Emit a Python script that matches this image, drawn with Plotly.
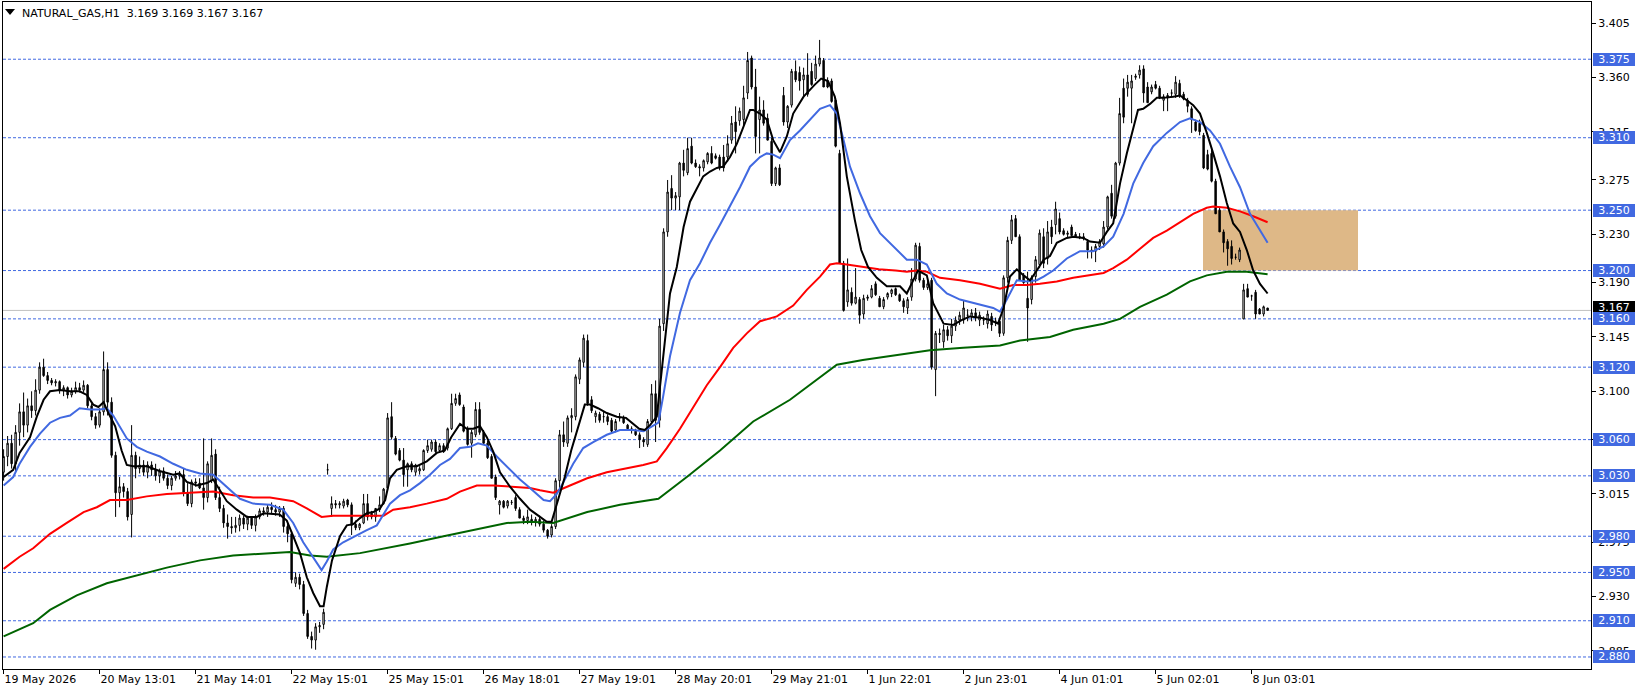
import plotly.graph_objects as go

# ---------------- data ----------------
opens = [
3.033,3.046,3.057,3.040,3.066,3.083,3.072,3.088,3.084,3.101,
3.120,3.113,3.109,3.107,3.108,3.101,3.103,3.097,3.100,3.103,
3.101,3.105,3.088,3.079,3.072,3.083,3.118,3.091,3.047,3.016,
3.021,3.017,2.998,3.047,3.036,3.039,3.033,3.039,3.035,3.030,
3.034,3.028,3.022,3.028,3.030,3.031,3.016,3.007,3.025,3.024,
3.020,3.012,3.026,3.048,3.012,3.003,2.991,2.988,2.987,2.989,
2.995,2.990,2.995,2.989,2.996,3.001,3.000,3.004,3.002,3.000,
3.003,2.988,2.982,2.941,2.946,2.940,2.916,2.897,2.894,2.905,
2.907,3.035,3.003,3.007,3.006,3.005,3.010,3.006,2.990,2.987,
2.991,3.007,2.999,2.996,3.002,3.007,3.020,3.079,3.061,3.051,
3.043,3.035,3.040,3.033,3.034,3.035,3.051,3.052,3.058,3.051,
3.055,3.053,3.069,3.090,3.097,3.087,3.069,3.057,3.064,3.085,
3.066,3.057,3.046,3.029,3.006,3.009,3.005,3.008,3.012,3.002,
2.995,2.993,2.994,2.992,2.994,2.990,2.985,2.981,2.988,3.026,
3.064,3.057,3.078,3.079,3.110,3.124,3.142,3.093,3.079,3.081,
3.079,3.079,3.076,3.068,3.078,3.078,3.072,3.069,3.067,3.064,
3.060,3.056,3.075,3.098,3.076,3.156,3.232,3.268,3.260,3.261,
3.289,3.281,3.303,3.289,3.286,3.285,3.290,3.297,3.295,3.294,
3.294,3.294,3.308,3.323,3.324,3.325,3.347,3.376,3.352,3.325,
3.333,3.326,3.307,3.272,3.285,3.345,3.323,3.337,3.365,3.364,
3.358,3.362,3.365,3.359,3.371,3.374,3.357,3.357,3.341,3.297,
3.206,3.174,3.182,3.173,3.176,3.164,3.177,3.178,3.189,3.177,
3.170,3.178,3.181,3.185,3.180,3.175,3.169,3.178,3.193,3.220,
3.192,3.186,3.192,3.118,3.148,3.141,3.151,3.146,3.154,3.159,
3.159,3.163,3.162,3.165,3.159,3.159,3.156,3.162,3.158,3.158,
3.148,3.194,3.225,3.243,3.228,3.196,3.177,3.176,3.195,3.205,
3.228,3.210,3.236,3.238,3.243,3.233,3.230,3.236,3.230,3.228,
3.228,3.224,3.217,3.216,3.220,3.222,3.236,3.264,3.245,3.289,
3.351,3.351,3.351,3.360,3.362,3.367,3.352,3.348,3.354,3.351,
3.341,3.345,3.347,3.346,3.355,3.346,3.341,3.334,3.323,3.322,
3.312,3.296,3.297,3.274,3.250,3.232,3.224,3.220,3.211,3.209,
3.160,3.185,3.179,3.182,3.168,3.164,3.169]

highs = [
3.052,3.063,3.064,3.072,3.090,3.099,3.094,3.100,3.110,3.124,
3.127,3.116,3.111,3.110,3.109,3.105,3.104,3.103,3.108,3.107,
3.109,3.106,3.090,3.082,3.086,3.133,3.124,3.095,3.050,3.029,
3.024,3.020,3.072,3.050,3.046,3.043,3.042,3.042,3.040,3.036,
3.037,3.031,3.030,3.034,3.034,3.036,3.024,3.027,3.028,3.028,
3.061,3.042,3.061,3.052,3.021,3.006,2.998,2.996,2.996,2.998,
2.997,2.997,2.996,2.998,3.003,3.004,3.006,3.008,3.006,3.005,
3.005,2.991,2.984,2.950,2.949,2.943,2.919,2.901,2.908,2.909,
2.920,3.040,3.013,3.010,3.009,3.011,3.011,3.008,2.993,2.991,
3.015,3.015,3.001,3.002,3.013,3.020,3.082,3.091,3.063,3.053,
3.053,3.041,3.042,3.040,3.038,3.052,3.060,3.060,3.060,3.057,
3.057,3.070,3.098,3.098,3.099,3.089,3.071,3.068,3.091,3.091,
3.068,3.059,3.048,3.031,3.010,3.010,3.010,3.010,3.014,3.004,
2.997,3.002,2.998,2.996,2.997,2.993,2.986,2.990,3.028,3.068,
3.075,3.080,3.086,3.114,3.128,3.147,3.147,3.096,3.084,3.083,
3.083,3.081,3.078,3.077,3.082,3.080,3.073,3.071,3.069,3.066,
3.062,3.077,3.106,3.109,3.160,3.235,3.275,3.279,3.265,3.290,
3.300,3.310,3.310,3.292,3.288,3.292,3.298,3.303,3.297,3.296,
3.304,3.312,3.328,3.336,3.335,3.353,3.381,3.378,3.367,3.344,
3.341,3.330,3.310,3.286,3.288,3.352,3.337,3.367,3.374,3.369,
3.368,3.380,3.372,3.378,3.391,3.376,3.360,3.359,3.343,3.300,
3.208,3.210,3.186,3.202,3.178,3.180,3.180,3.188,3.191,3.179,
3.178,3.182,3.185,3.186,3.181,3.177,3.178,3.202,3.223,3.223,
3.194,3.192,3.194,3.150,3.152,3.155,3.154,3.160,3.162,3.166,
3.175,3.168,3.168,3.169,3.166,3.162,3.167,3.165,3.161,3.160,
3.196,3.228,3.246,3.246,3.230,3.198,3.199,3.196,3.212,3.234,
3.235,3.241,3.242,3.257,3.248,3.235,3.233,3.238,3.232,3.231,
3.231,3.226,3.220,3.222,3.226,3.241,3.262,3.271,3.290,3.343,
3.359,3.362,3.362,3.363,3.370,3.370,3.356,3.354,3.357,3.353,
3.346,3.347,3.350,3.361,3.358,3.348,3.343,3.336,3.325,3.325,
3.314,3.300,3.300,3.276,3.252,3.234,3.226,3.225,3.214,3.219,
3.189,3.189,3.180,3.184,3.169,3.171,3.169]

lows = [
3.026,3.038,3.036,3.034,3.055,3.062,3.066,3.078,3.080,3.098,
3.112,3.106,3.105,3.104,3.098,3.096,3.094,3.095,3.098,3.099,
3.099,3.086,3.076,3.069,3.070,3.080,3.080,3.045,2.996,3.004,
3.012,2.993,2.979,3.028,3.032,3.030,3.028,3.030,3.026,3.024,
3.026,3.019,3.018,3.026,3.027,3.013,3.005,3.004,3.021,3.019,
3.002,3.008,3.024,3.010,3.000,2.987,2.978,2.982,2.983,2.984,
2.986,2.985,2.986,2.984,2.994,2.997,2.996,2.999,2.997,2.996,
2.983,2.975,2.941,2.938,2.936,2.914,2.895,2.887,2.886,2.900,
2.903,3.031,2.996,3.003,3.003,3.003,3.004,2.981,2.985,2.985,
2.990,2.993,2.994,2.992,3.000,3.006,3.018,3.060,3.047,3.042,
3.021,3.021,3.033,3.030,3.031,3.034,3.049,3.050,3.049,3.049,
3.049,3.051,3.068,3.088,3.088,3.066,3.055,3.045,3.062,3.064,
3.056,3.044,3.028,3.010,2.998,3.003,3.003,3.006,3.001,2.995,
2.990,2.990,2.989,2.988,2.988,2.983,2.978,2.979,2.986,3.020,
3.054,3.054,3.066,3.076,3.106,3.120,3.088,3.082,3.074,3.074,
3.074,3.072,3.066,3.066,3.075,3.073,3.068,3.065,3.063,3.053,
3.054,3.054,3.074,3.058,3.070,3.150,3.228,3.250,3.250,3.250,
3.278,3.279,3.288,3.285,3.278,3.282,3.288,3.288,3.292,3.283,
3.282,3.290,3.305,3.297,3.320,3.320,3.342,3.350,3.297,3.297,
3.320,3.308,3.270,3.270,3.270,3.320,3.318,3.335,3.356,3.349,
3.344,3.344,3.353,3.357,3.369,3.352,3.351,3.339,3.302,3.206,
3.166,3.170,3.171,3.172,3.156,3.160,3.175,3.177,3.179,3.170,
3.168,3.176,3.178,3.179,3.174,3.165,3.164,3.175,3.191,3.190,
3.184,3.184,3.118,3.096,3.140,3.136,3.142,3.140,3.150,3.155,
3.156,3.158,3.158,3.158,3.154,3.155,3.152,3.150,3.154,3.145,
3.146,3.190,3.222,3.228,3.192,3.189,3.141,3.172,3.190,3.202,
3.202,3.205,3.222,3.230,3.230,3.229,3.227,3.229,3.227,3.226,
3.225,3.210,3.210,3.207,3.217,3.219,3.234,3.243,3.243,3.287,
3.322,3.344,3.322,3.358,3.359,3.339,3.339,3.346,3.350,3.342,
3.332,3.332,3.344,3.343,3.343,3.341,3.331,3.314,3.315,3.312,
3.284,3.283,3.273,3.247,3.232,3.215,3.204,3.205,3.209,3.207,
3.160,3.178,3.175,3.160,3.164,3.162,3.167]

closes = [
3.046,3.057,3.040,3.066,3.083,3.072,3.088,3.084,3.101,3.120,
3.113,3.109,3.107,3.108,3.101,3.103,3.097,3.100,3.103,3.101,
3.105,3.088,3.079,3.072,3.083,3.118,3.091,3.047,3.016,3.021,
3.017,2.996,3.047,3.036,3.039,3.033,3.039,3.035,3.030,3.034,
3.028,3.022,3.028,3.030,3.031,3.016,3.007,3.025,3.024,3.020,
3.012,3.040,3.047,3.012,3.003,2.991,2.988,2.987,2.989,2.995,
2.990,2.995,2.989,2.996,3.001,3.000,3.004,3.002,3.000,3.003,
2.988,2.982,2.944,2.946,2.940,2.916,2.897,2.894,2.905,2.906,
2.917,3.035,3.007,3.006,3.007,3.009,3.006,2.989,2.987,2.990,
3.007,2.996,2.996,3.003,3.006,3.019,3.078,3.062,3.048,3.043,
3.031,3.040,3.035,3.039,3.036,3.051,3.055,3.058,3.050,3.055,
3.050,3.069,3.090,3.094,3.089,3.067,3.056,3.066,3.085,3.066,
3.057,3.045,3.028,3.012,3.009,3.004,3.009,3.008,3.003,2.995,
2.993,2.996,2.992,2.994,2.990,2.985,2.980,2.988,3.026,3.064,
3.058,3.078,3.080,3.112,3.126,3.144,3.090,3.084,3.082,3.076,
3.079,3.075,3.067,3.075,3.078,3.074,3.069,3.068,3.064,3.060,
3.058,3.075,3.098,3.076,3.154,3.232,3.265,3.260,3.262,3.289,
3.283,3.301,3.289,3.286,3.285,3.291,3.297,3.289,3.293,3.285,
3.285,3.305,3.322,3.315,3.332,3.343,3.374,3.352,3.311,3.333,
3.322,3.308,3.272,3.285,3.271,3.323,3.336,3.365,3.358,3.357,
3.362,3.346,3.354,3.371,3.376,3.352,3.352,3.340,3.303,3.206,
3.167,3.184,3.173,3.178,3.163,3.177,3.178,3.185,3.180,3.170,
3.176,3.181,3.184,3.180,3.175,3.170,3.176,3.193,3.221,3.192,
3.186,3.189,3.120,3.148,3.147,3.151,3.146,3.154,3.159,3.163,
3.169,3.163,3.165,3.161,3.163,3.159,3.164,3.155,3.158,3.148,
3.194,3.225,3.242,3.228,3.192,3.190,3.169,3.194,3.209,3.231,
3.206,3.232,3.228,3.251,3.232,3.230,3.231,3.229,3.228,3.228,
3.227,3.217,3.216,3.220,3.224,3.236,3.261,3.245,3.289,3.330,
3.327,3.356,3.357,3.361,3.366,3.347,3.339,3.352,3.351,3.343,
3.344,3.343,3.347,3.356,3.345,3.342,3.336,3.325,3.316,3.315,
3.285,3.284,3.274,3.247,3.232,3.223,3.218,3.210,3.211,3.217,
3.184,3.178,3.179,3.164,3.164,3.170,3.167]

# moving averages (bar position, value)
ma_fast_x = [0,2.4,4,6.6,8.3,10,11.6,14,16.6,19,20.8,22.4,23.7,25,26.2,27.9,29.5,30.8,32.4,35.8,
             39,42.4,44,45.8,48.3,50.8,52.4,54.1,55.8,58.3,60.8,63.3,65,
             69,70.8,72.4,74.1,75.8,77.4,79.1,80,80.8,82.1,84.1,85.8,87.4,89.1,90.8,92.4,94.1,95.4,
             96.6,98.3,100.8,103.3,105.8,108.3,110.3,111.9,114.1,115.8,117.4,119.1,120.8,122.4,124.1,
             126.6,129.1,131.6,
             134.1,135.8,137,138.6,140.3,141.9,143.6,145.3,146.6,148.6,150.8,153.3,155.6,157.4,158.9,
             160.3,161.6,163.3,164.9,166.6,168.3,170,171.6,173.3,174.9,176.6,178.3,179.9,181.6,183.3,
             184.9,186.6,187.4,189.1,190.8,192.4,194.1,
             195.8,197.4,200,202.8,204.4,206.1,207.8,209.1,210.8,212.8,214.4,216.1,218.3,220.8,224.1,
             225.8,227.4,228.6,230.8,232.4,235,237.4,239.5,241.6,244.1,246.6,248.6,250,251.6,253.3,
             255,256.6,258.3,260,
             261.6,263.3,265.8,267.4,269.9,271.6,274.1,275.8,277.4,279.1,280.8,282.4,283.6,284.9,286.6,
             288.3,289.9,292.4,294.1,295.8,297.4,299.1,300.8,302.4,304.1,305.8,307.4,309.1,310.8,312.4,
             314.1,316]
ma_fast_y = [3.029,3.035,3.049,3.062,3.079,3.093,3.100,3.101,3.100,3.100,3.097,3.089,3.087,3.091,3.082,
             3.071,3.051,3.039,3.038,3.038,3.034,3.031,3.032,3.025,3.022,3.024,3.027,3.018,3.009,3.002,
             2.996,2.996,2.999,
             2.998,2.993,2.980,2.966,2.946,2.933,2.922,2.922,2.938,2.960,2.980,2.989,2.990,2.995,2.999,
             3.000,3.003,3.010,3.028,3.035,3.038,3.038,3.042,3.049,3.051,3.062,3.073,3.069,3.069,3.071,
             3.062,3.050,3.033,3.021,3.011,3.002,
             2.996,2.992,2.992,3.010,3.029,3.051,3.071,3.089,3.089,3.086,3.082,3.079,3.078,3.073,3.069,
             3.068,3.072,3.079,3.126,3.181,3.203,3.236,3.257,3.268,3.278,3.282,3.285,3.286,3.294,3.305,
             3.319,3.333,3.333,3.330,3.325,3.308,3.298,
             3.311,3.330,3.344,3.354,3.359,3.357,3.344,3.322,3.278,3.242,3.217,3.203,3.194,3.187,3.187,
             3.181,3.192,3.200,3.196,3.173,3.156,3.155,3.159,3.162,3.161,3.159,3.156,3.169,3.195,3.201,
             3.196,3.192,3.200,3.209,
             3.212,3.223,3.227,3.228,3.227,3.224,3.223,3.232,3.239,3.272,3.297,3.319,3.333,3.334,3.338,
             3.343,3.343,3.344,3.345,3.341,3.337,3.330,3.314,3.297,3.278,3.256,3.239,3.232,3.217,3.200,
             3.189,3.181]

ma_mid_x = [0,2.4,4,6.6,9.1,11.6,14.1,16.6,19,21.6,24.1,25.8,27.4,29.1,30.8,33.3,35.8,39.1,42.4,45.8,
            49.1,52.4,55.8,59.1,62.4,66.6,
            69.9,72.4,74.9,77.4,79.5,80.8,82.4,84.9,88.3,90.8,93.3,95,96.6,99.1,101.6,104.1,106.6,
            109.1,111.6,114.1,116.6,118.6,120.8,123.3,125.8,129.1,131.6,
            135,136.6,138.3,140,142.4,144.9,147.4,150.8,154.1,157.4,160,162.1,163.7,164.9,166.6,169.1,
            171.6,174.1,176.6,179.1,181.6,184.1,186.6,189.1,190.8,192.4,194.1,
            196.6,199.1,201.6,204.1,206.6,208.3,210,211.6,214.1,216.6,219.1,222.4,225.8,228.3,230.8,
            233.3,235.8,239.1,244.1,247.4,249.1,250.8,253.3,255.8,258.3,260,
            262.4,265.8,269.1,272.4,275,277.4,280,282.4,284.9,287.4,290.8,294.1,296.6,299.1,301.6,
            304.1,306.6,309.1,311.6,314.1,316]
ma_mid_y = [3.022,3.029,3.040,3.054,3.065,3.074,3.078,3.080,3.086,3.085,3.085,3.086,3.080,3.071,3.061,
            3.054,3.050,3.046,3.040,3.035,3.032,3.031,3.021,3.011,3.007,3.006,
            3.002,2.991,2.975,2.962,2.952,2.959,2.969,2.975,2.981,2.985,2.989,2.998,3.007,3.014,3.018,
            3.024,3.031,3.039,3.044,3.053,3.054,3.057,3.055,3.046,3.038,3.027,3.020,
            3.010,3.009,3.015,3.025,3.040,3.053,3.058,3.064,3.068,3.068,3.067,3.071,3.074,3.096,3.129,
            3.165,3.192,3.206,3.223,3.238,3.253,3.269,3.286,3.294,3.297,3.296,3.293,
            3.308,3.316,3.325,3.334,3.337,3.330,3.308,3.286,3.264,3.245,3.231,3.220,3.209,3.209,3.205,
            3.189,3.181,3.176,3.172,3.169,3.166,3.176,3.192,3.191,3.192,3.195,
            3.200,3.210,3.216,3.216,3.220,3.228,3.247,3.272,3.289,3.303,3.314,3.323,3.326,3.323,3.316,
            3.305,3.286,3.269,3.247,3.234,3.223]

ma_slow_x = [0,4,7.4,11.6,15.8,20,23.3,26.6,30.8,35.8,40.8,45.8,52.4,57.4,62.4,66.6,
             69,72.4,75.8,79.5,82.4,89.1,95,97.4,101.6,105.8,110.8,114.1,118.3,122.4,127.4,131.6,
             134.1,137.4,141.6,145.9,150.8,155.6,159.9,163.3,165.8,169.1,172.4,175.8,179.1,182.4,
             185.8,189.1,193.3,
             197.4,200.8,204.1,206.6,208.3,210.8,214.8,218.8,223,225.8,228.3,230.8,234.1,239.1,244.1,
             249.1,252.4,255.8,259.1,
             263.3,267.4,271.6,275,277.4,280.8,284.1,287.4,290.8,294.1,297.4,300.8,302.4,305.8,309.1,
             312.4,316]
ma_slow_y = [2.953,2.963,2.970,2.982,2.991,3.000,3.004,3.010,3.010,3.013,3.015,3.016,3.017,3.014,3.012,3.012,
             3.011,3.009,3.003,2.996,2.997,2.997,2.997,3.002,3.004,3.007,3.011,3.017,3.022,3.022,3.021,3.020,
             3.018,3.016,3.022,3.028,3.033,3.036,3.039,3.042,3.053,3.069,3.087,3.105,3.120,3.136,
             3.148,3.158,3.162,
             3.171,3.184,3.195,3.205,3.206,3.205,3.203,3.201,3.200,3.199,3.200,3.199,3.194,3.192,3.189,
             3.185,3.188,3.188,3.189,
             3.191,3.194,3.196,3.198,3.202,3.209,3.218,3.227,3.233,3.240,3.247,3.252,3.253,3.252,3.249,
             3.245,3.240]

ma_long_x = [0,7.4,11.6,18.3,25.8,32.4,40.8,49.1,57.4,66.6,
             71.6,76.6,80.8,89.1,95.7,101.6,110,118.3,125.8,131.6,
             137.4,145.9,154.1,163.7,170.8,179.1,187.4,196.6,
             202.4,208.3,214.8,223,231.6,239.9,249.1,254.1,261.6,
             267.4,275,279.1,284.1,290.8,296.6,300.8,305.8,310.8,316]
ma_long_y = [2.897,2.908,2.919,2.931,2.941,2.947,2.954,2.960,2.964,2.966,
             2.967,2.964,2.963,2.966,2.970,2.974,2.980,2.986,2.991,2.992,
             2.991,3.000,3.006,3.011,3.029,3.051,3.075,3.093,
             3.107,3.122,3.126,3.130,3.134,3.136,3.138,3.142,3.145,
             3.151,3.156,3.160,3.170,3.180,3.191,3.196,3.199,3.199,3.197]

tick_bars = [0, 24, 48, 72, 96, 120, 144, 168, 192, 216, 240, 264, 288, 312]
tick_labels = ["19 May 2026", "20 May 13:01", "21 May 14:01", "22 May 15:01", "25 May 15:01",
               "26 May 18:01", "27 May 19:01", "28 May 20:01", "29 May 21:01", "1 Jun 22:01",
               "2 Jun 23:01", "4 Jun 01:01", "5 Jun 02:01", "8 Jun 03:01"]
price_ticks = [3.405, 3.360, 3.315, 3.275, 3.230, 3.190, 3.145, 3.100, 3.060, 3.015, 2.975, 2.930, 2.885]
levels = [3.375, 3.310, 3.250, 3.200, 3.160, 3.120, 3.060, 3.030, 2.980, 2.950, 2.910, 2.880]
zone_low, zone_high = 3.200, 3.250
zone_bar_start, zone_bar_end = 299.85, 338.6

symbol = "NATURAL_GAS,H1"

# ---------------- figure ----------------
bars = list(range(len(closes)))
BLUE = "#4169E1"
FONT = "DejaVu Sans"

fig = go.Figure()
fig.add_trace(go.Candlestick(
    x=bars, open=opens, high=highs, low=lows, close=closes,
    increasing=dict(line=dict(color="black", width=1), fillcolor="white"),
    decreasing=dict(line=dict(color="black", width=1), fillcolor="black"),
    whiskerwidth=0, hoverinfo="skip", showlegend=False))

for xs, ys, col, w in [(ma_long_x, ma_long_y, "#006400", 2),
                       (ma_slow_x, ma_slow_y, "#FF0000", 2),
                       (ma_mid_x, ma_mid_y, BLUE, 2),
                       (ma_fast_x, ma_fast_y, "#000000", 2)]:
    fig.add_trace(go.Scatter(x=xs, y=ys, mode="lines", line=dict(color=col, width=w),
                             hoverinfo="skip", showlegend=False))

shapes = [dict(type="rect", xref="x", yref="y", x0=zone_bar_start, x1=zone_bar_end,
               y0=zone_low, y1=zone_high, fillcolor="#DEB887", line=dict(width=0), layer="below")]
for lv in levels:
    shapes.append(dict(type="line", xref="paper", yref="y", x0=0, x1=1, y0=lv, y1=lv,
                       line=dict(color=BLUE, width=1, dash="3px,2px"), layer="below"))
shapes.append(dict(type="line", xref="paper", yref="y", x0=0, x1=1, y0=closes[-1], y1=closes[-1],
                   line=dict(color="#C0C0C0", width=1), layer="below"))
# small title triangle
shapes.append(dict(type="path", xref="paper", yref="paper",
                   path="M 0.00126 0.9895 L 0.00756 0.9895 L 0.00441 0.9805 Z",
                   fillcolor="black", line=dict(width=0)))

annotations = []
annotations.append(dict(xref="paper", yref="y", x=1, y=closes[-1], xanchor="left", yanchor="middle",
                        xshift=2, yshift=3, text=f"{closes[-1]:.3f}", showarrow=False,
                        font=dict(family=FONT, size=11, color="white"), bgcolor="black",
                        width=42, height=13, borderpad=0, borderwidth=0))
for lv in levels:
    annotations.append(dict(xref="paper", yref="y", x=1, y=lv, xanchor="left", yanchor="middle",
                            xshift=2, text=f"{lv:.3f}", showarrow=False,
                            font=dict(family=FONT, size=11, color="white"), bgcolor=BLUE,
                            width=42, height=13, borderpad=0, borderwidth=0))
title_txt = (f"{symbol}\u00a0\u00a0{opens[-1]:.3f} {highs[-1]:.3f} "
             f"{lows[-1]:.3f} {closes[-1]:.3f}")
annotations.append(dict(xref="paper", yref="paper", x=0, y=1, xanchor="left", yanchor="top",
                        xshift=17, yshift=-3, text=title_txt, showarrow=False,
                        font=dict(family=FONT, size=11, color="black")))

fig.update_layout(
    width=1641, height=693,
    margin=dict(l=3, r=50, t=2, b=24, pad=0),
    paper_bgcolor="white", plot_bgcolor="white",
    showlegend=False, boxgap=0.5,
    shapes=shapes, annotations=annotations,
    xaxis=dict(range=[-0.15, 396.85], tickvals=tick_bars, ticktext=tick_labels,
               ticks="outside", ticklen=4, tickcolor="black", ticklabelposition="outside right",
               showline=True, linecolor="black", linewidth=1, mirror=True,
               showgrid=False, zeroline=False, rangeslider=dict(visible=False),
               tickfont=dict(family=FONT, size=11, color="black")),
    yaxis=dict(range=[2.87005, 3.42239], side="right", tickvals=price_ticks,
               ticktext=[f"{p:.3f}" for p in price_ticks],
               ticks="outside", ticklen=4, tickcolor="black",
               showline=True, linecolor="black", linewidth=1, mirror=True,
               showgrid=False, zeroline=False,
               tickfont=dict(family=FONT, size=11, color="black")),
)

fig.write_html("out.html")
